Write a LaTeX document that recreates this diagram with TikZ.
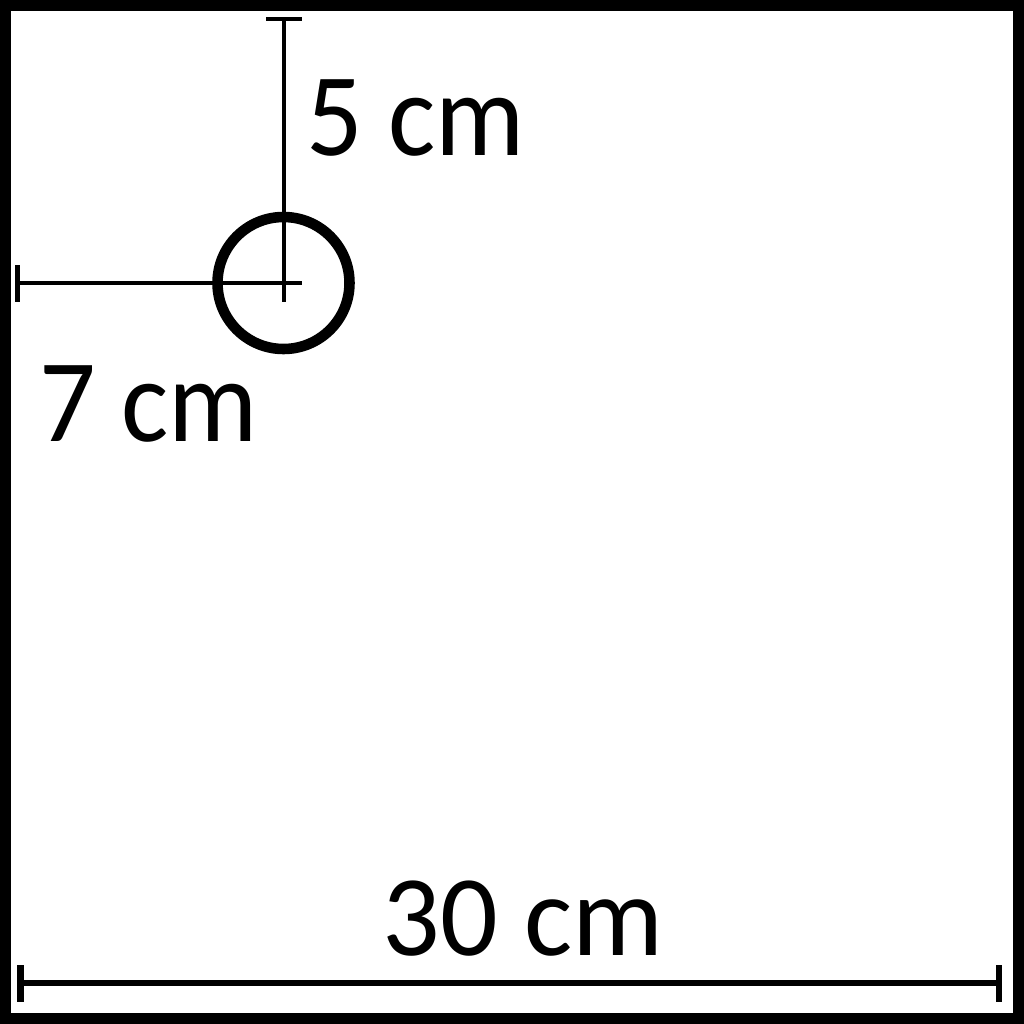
\documentclass[tikz,border=0pt]{standalone}
\usepackage{fontspec}
\setmainfont{Carlito}
\begin{document}
\begin{tikzpicture}[x=0.01cm,y=-0.01cm,
  frame/.style={line width=3.13pt},
  dimline/.style={line width=1.3pt},
  bigdim/.style={line width=1.8pt},
  ring/.style={line width=3pt},
  lbl/.style={inner sep=0pt, anchor=base west, font=\fontsize{33.6}{40}\selectfont, xscale=0.945},
  biglbl/.style={inner sep=0pt, anchor=base, font=\fontsize{32.7}{40}\selectfont, xscale=0.99}]
\useasboundingbox (0,0) rectangle (1024,1024);
% frame
\draw[frame] (5.5,5.5) rectangle (1018.5,1018.5);
% hole
\coordinate (c) at (283.5,283);
\draw[ring] (c) circle[radius=66];
% vertical dimension (5 cm)
\coordinate (vtop) at (284,19);
\coordinate (vbot) at (284,302);
\draw[dimline] (vtop) -- (vbot);
\draw[dimline] (266,19) -- (302,19);
% horizontal dimension (7 cm)
\coordinate (hleft) at (17.5,283);
\coordinate (hright) at (302,283);
\draw[dimline] (hleft) -- (hright);
\draw[dimline] (17.5,265) -- (17.5,302);
% bottom dimension (30 cm)
\coordinate (bl) at (20.5,983);
\coordinate (br) at (999,983);
\draw[bigdim] (bl) -- (br);
\draw[bigdim] (20.5,965) -- (20.5,1002);
\draw[bigdim] (999,965) -- (999,1002);
% labels
\node[lbl] (l5) at (306,155) {5 cm};
\node[lbl] (l7) at (39,441) {7 cm};
\node[biglbl] (l30) at (523,955) {30 cm};
\end{tikzpicture}
\end{document}
